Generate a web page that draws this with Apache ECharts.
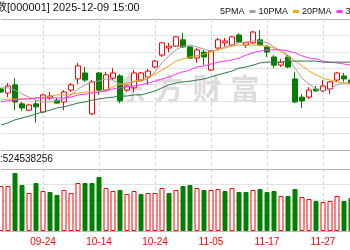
<!DOCTYPE html>
<html><head><meta charset="utf-8">
<script src="https://cdn.jsdelivr.net/npm/echarts@6/dist/echarts.min.js"></script>
<style>
html,body{margin:0;padding:0;overflow:hidden;width:350px;height:250px;background:#fff}
#c{position:absolute;left:-40px;top:0;width:470px;height:250px}
</style></head><body><div id="c"></div>
<script>
const titleText = '上证指数[000001] 2025-12-09 15:00';
const volText = '成交量:524538256';
const maNames = ['5PMA', '10PMA', '20PMA', '30PMA'];
const watermark = ['东', '方', '财', '富'];
const dates = ['09-16','09-17','09-18','09-19','09-22','09-23','09-24','09-25','09-26','09-29','09-30',
'10-09','10-10','10-13','10-14','10-15','10-16','10-17','10-20','10-21','10-22','10-23','10-24','10-27','10-28','10-29','10-30','10-31',
'11-03','11-04','11-05','11-06','11-07','11-10','11-11','11-12','11-13','11-14','11-17','11-18','11-19','11-20','11-21','11-24','11-25','11-26','11-27','11-28',
'12-01','12-02','12-03'];
// [open, close, low, high]
const candles = [
[3884,3876,3873,3887],[3873,3892,3862,3900],[3895,3849,3827,3913],[3844,3833,3825,3849],[3827,3841,3825,3844],
[3844,3836,3793,3854],[3822,3868,3819,3870],[3860,3865,3854,3876],[3854,3846,3844,3860],[3849,3876,3827,3881],
[3881,3895,3876,3900],[3911,3946,3897,3954],[3927,3908,3903,3943],[3817,3903,3814,3908],[3927,3881,3868,3930],
[3881,3922,3876,3930],[3913,3927,3908,3940],[3919,3852,3846,3924],[3881,3892,3876,3897],[3887,3927,3876,3935],
[3908,3927,3905,3930],[3916,3932,3895,3938],[3943,3959,3940,3962],[3975,4008,3970,4010],[3994,3999,3983,4008],
[3999,4024,3997,4026],[4016,3997,3994,4034],[3997,3967,3965,3999],[3967,3989,3954,3994],[3983,3970,3948,3989],
[3935,3986,3932,3989],[3994,4016,3989,4021],[4008,4013,3997,4021],[4002,4024,3999,4026],[4029,4010,4008,4034],
[4002,4008,3994,4010],[4008,4037,4005,4040],[4016,4002,3999,4042],[3997,3983,3970,4002],[3970,3948,3940,3975],
[3948,3956,3943,3965],[3970,3943,3940,3975],[3911,3849,3846,3930],[3862,3852,3833,3870],[3862,3881,3857,3889],
[3884,3879,3876,3892],[3879,3892,3876,3908],[3884,3903,3870,3905],[3908,3927,3903,3930],[3919,3911,3903,3927],
[3908,3900,3895,3911]];
const ma5 = [3887,3887,3881,3870,3862,3854,3849,3849,3852,3857,3868,3884,3895,3903,3905,3911,3908,3897,3895,3903,
3905,3911,3930,3954,3973,3989,3999,4002,3997,3991,3986,3989,3997,4002,4008,4010,4013,4013,4008,3997,
3986,3970,3940,3913,3897,3884,3879,3884,3895,3900,3900];
const ma10 = [3854,3857,3857,3857,3857,3860,3862,3865,3868,3868,3870,3873,3876,3876,3876,3881,3889,3897,3900,3905,
3908,3916,3924,3935,3946,3959,3965,3970,3973,3978,3983,3989,3994,3999,4002,4002,4002,4002,3999,3994,
3986,3975,3959,3946,3932,3922,3913,3908,3903,3900,3897];
const ma20 = [3849,3852,3854,3857,3857,3860,3860,3860,3860,3860,3862,3868,3870,3873,3876,3879,3884,3887,3889,3892,
3895,3900,3905,3911,3916,3924,3930,3935,3943,3946,3951,3956,3959,3962,3967,3975,3981,3986,3989,3989,
3989,3986,3981,3973,3967,3965,3959,3956,3954,3951,3948];
const ma30 = [3787,3793,3801,3806,3811,3817,3822,3827,3833,3836,3841,3846,3849,3854,3857,3860,3862,3865,3865,3868,
3868,3873,3879,3887,3895,3900,3903,3905,3908,3911,3916,3922,3927,3932,3940,3943,3948,3954,3956,3956,
3956,3959,3959,3959,3959,3959,3956,3956,3956,3956,3956];
const volumes = [871e6,871e6,1123e6,890e6,735e6,929e6,774e6,755e6,697e6,794e6,735e6,929e6,929e6,929e6,1045e6,
832e6,774e6,794e6,716e6,774e6,716e6,735e6,735e6,832e6,735e6,794e6,871e6,890e6,832e6,794e6,794e6,813e6,
774e6,832e6,755e6,755e6,794e6,813e6,755e6,774e6,677e6,677e6,813e6,658e6,619e6,581e6,561e6,581e6,677e6,581e6,639e6];
// 1 = up vs previous close, -1 = down
const volDir = [1,1,-1,-1,1,-1,1,-1,-1,1,1,1,-1,-1,-1,1,1,-1,1,1,-1,1,1,1,-1,1,-1,-1,1,-1,1,1,-1,1,-1,-1,1,-1,-1,-1,
1,-1,-1,1,1,-1,1,1,1,-1,-1];

const RED = '#ff0000', GREEN = '#008000';
const FONT = '"Liberation Sans","Noto Sans CJK SC",sans-serif';
const maColors = ['#a0a0a0', '#f5a31a', '#ff33ff', '#2e7d4a'];
const labelAt = (i) => i >= 6 && (i - 6) % 8 === 0;
const GL = 41, GR = 79;
const light = '#e2e2e2', dark = '#b8b8b8';

const chart = echarts.init(document.getElementById('c'), null, {renderer: 'canvas'});
function xAx(gi, showLabel) {
  return {
    type: 'category', gridIndex: gi, data: dates, boundaryGap: false,
    axisLine: {show: false}, axisTick: {show: false},
    axisLabel: {show: showLabel, interval: (i) => labelAt(i), hideOverlap: false,
      color: RED, fontSize: 10, fontFamily: FONT, margin: 6},
    splitLine: {show: true, interval: (i) => labelAt(i), lineStyle: {color: '#cfcfcf', type: [3, 3], width: 1}}
  };
}
const mainSplit = [dark, light, light, light, light, light, light, light, dark];
const volSplit = [dark, light, light, light, dark];
const option = {
  animation: false,
  backgroundColor: '#fff',
  grid: [
    {left: GL, right: GR, top: 19, height: 131},
    {left: GL, right: GR, top: 150, height: 19},
    {left: GL, right: GR, top: 169, height: 62}
  ],
  xAxis: [xAx(0, false), xAx(1, false), xAx(2, true)],
  yAxis: [
    {type: 'value', gridIndex: 0, min: 3720, max: 4072, interval: 44, axisLabel: {show: false},
      axisLine: {show: false}, axisTick: {show: false}, splitLine: {lineStyle: {color: mainSplit}}},
    {type: 'value', gridIndex: 1, min: 0, max: 1, axisLabel: {show: false}, axisLine: {show: false},
      axisTick: {show: false}, splitLine: {show: false}},
    {type: 'value', gridIndex: 2, min: 0, max: 1.2e9, interval: 3e8, axisLabel: {show: false},
      axisLine: {show: false}, axisTick: {show: false}, splitLine: {lineStyle: {color: volSplit}}}
  ],
  legend: {
    data: maNames, left: 255, top: 2, itemWidth: 6, itemHeight: 3, itemGap: 3, align: 'right',
    icon: 'rect', selectedMode: false, textStyle: {fontSize: 9, color: '#111', fontFamily: FONT}
  },
  graphic: [
    {type: 'text', left: 3, top: 2, z: 10, style: {text: titleText, font: '11px ' + FONT, fill: '#111'}},
    {type: 'text', left: 10, top: 154, z: 10, style: {text: volText, font: '10px ' + FONT, fill: '#111'}}
  ].concat(watermark.map((ch, k) => ({
    type: 'text', z: 0, silent: true, x: 40 + 131 + k * 38, y: 89,
    style: {text: ch, font: 'bold 29px "Noto Sans CJK SC"', fill: '#dcdcdc', align: 'center', verticalAlign: 'middle'}
  }))),
  series: [
    {type: 'candlestick', xAxisIndex: 0, yAxisIndex: 0, data: candles, barWidth: 5, z: 2,
      itemStyle: {color: '#ffffff', color0: GREEN, borderColor: RED, borderColor0: GREEN, borderWidth: 1}},
  ].concat([ma5, ma10, ma20, ma30].map((d, k) => ({
    type: 'line', name: maNames[k], xAxisIndex: 0, yAxisIndex: 0, data: d, showSymbol: false, symbol: 'none',
    z: 3, silent: true, lineStyle: {width: 1, color: maColors[k]}, itemStyle: {color: maColors[k]}
  }))).concat([{
    type: 'bar', xAxisIndex: 2, yAxisIndex: 2, barWidth: 5,
    data: volumes.map((v, i) => ({
      value: v,
      itemStyle: volDir[i] > 0 ? {color: '#ffffff', borderColor: RED, borderWidth: 1} : {color: GREEN, borderColor: GREEN, borderWidth: 1}
    }))
  }])
};
chart.setOption(option);
</script></body></html>
